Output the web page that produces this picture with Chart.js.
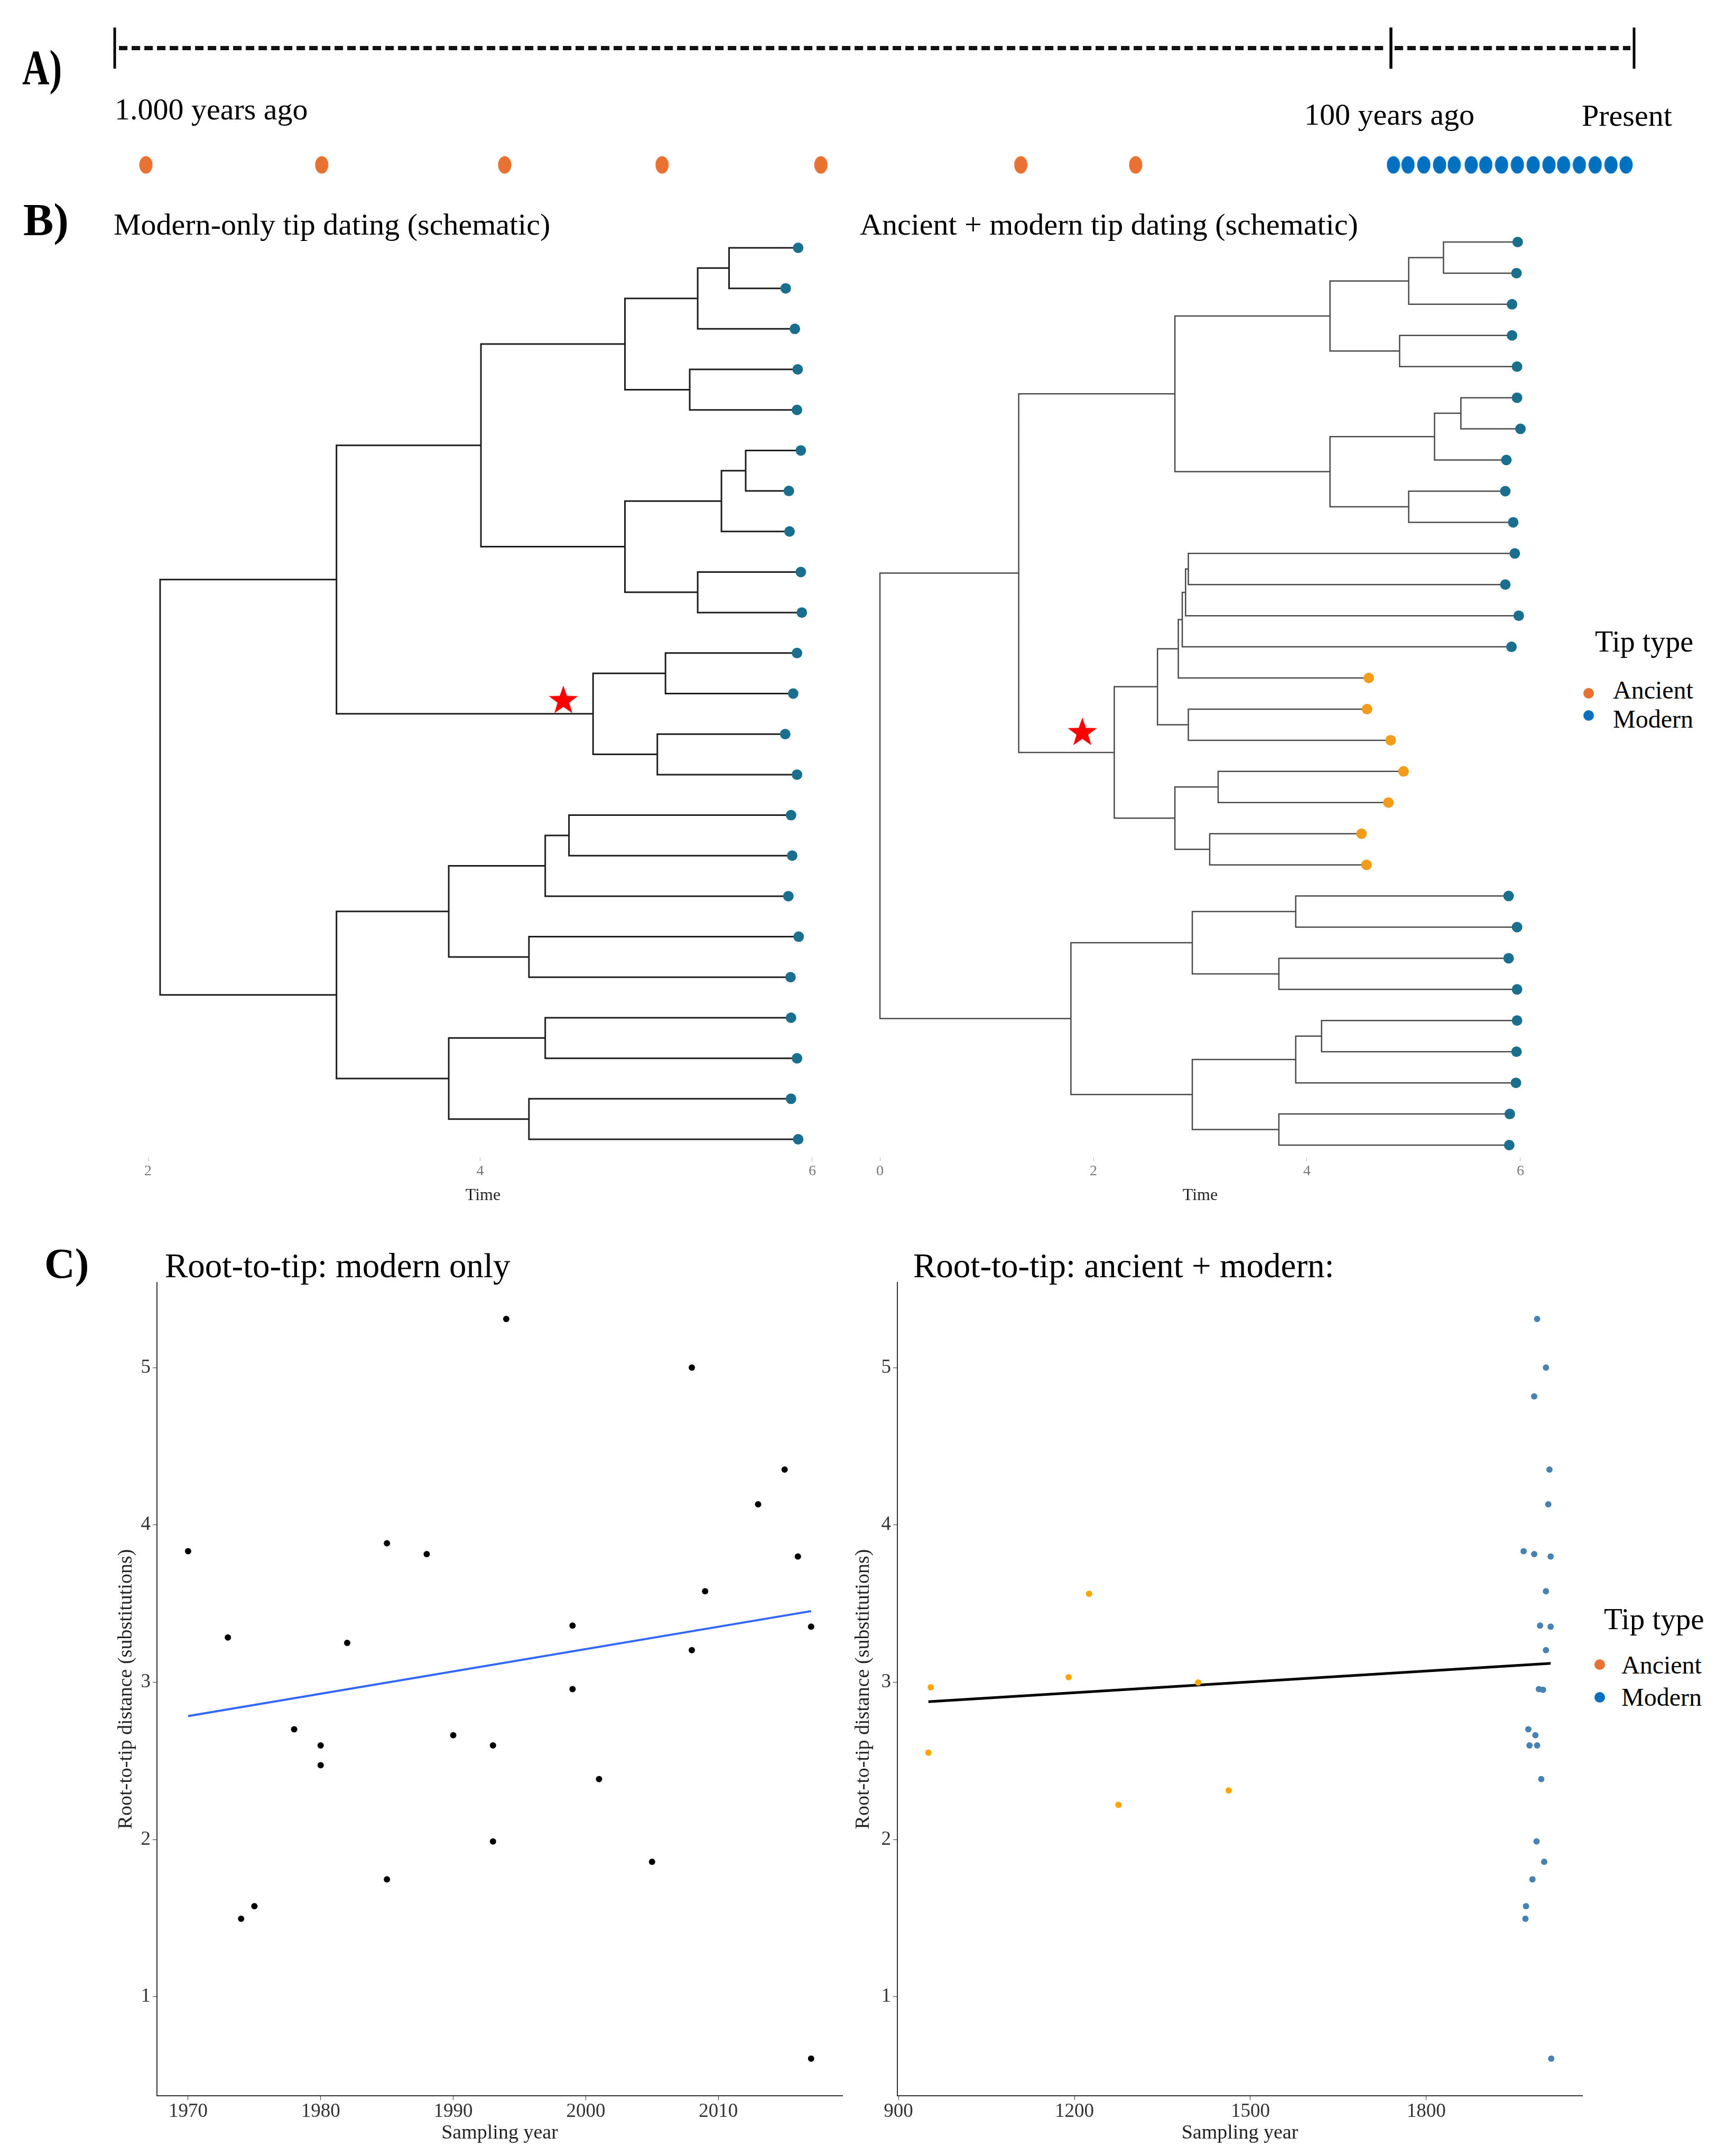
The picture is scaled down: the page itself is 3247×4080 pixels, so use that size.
<!DOCTYPE html>
<html>
<head>
<meta charset="utf-8">
<script src="https://cdn.jsdelivr.net/npm/chart.js@4.4.1/dist/chart.umd.min.js"></script>
<style>
  html, body { margin: 0; padding: 0; background: #fff; }
  #page { position: relative; width: 3247px; height: 4080px; overflow: hidden;
          font-family: "Liberation Serif", "Times New Roman", serif; color: #000; }
  #page canvas { position: absolute; }
  .t { position: absolute; white-space: nowrap; line-height: 1; }
  .dot { position: absolute; border-radius: 50%; }
</style>
</head>
<body>
<div id="page"></div>
<script>
// ---------- data ----------
// A) schematic timeline, in years before present
const timelineBreaks = [1000, 100, 0];
const ancientYearsAgo = [978, 854, 725, 614, 502, 361, 280];
const modernYearsAgo = [99, 93, 86.5, 80, 74, 67, 61, 54.5, 48, 41.5, 35, 29, 22.5, 16, 9.5, 3.3];

// B) left tree: tips 0..22 then internal nodes 23..44 (node times on the Time axis)
const leftTipTime = [5.915, 5.840, 5.895, 5.912, 5.908, 5.931, 5.859, 5.863, 5.931, 5.937, 5.908, 5.885,
                     5.837, 5.908, 5.872, 5.879, 5.856, 5.918, 5.869, 5.872, 5.908, 5.872, 5.915];
const leftNodeTime = [2.073, 3.135, 3.135, 4.005, 4.680, 4.872, 4.872, 5.310, 5.499, 5.262, 5.453,
                      5.599, 5.310, 5.116, 5.067, 3.811, 3.811, 4.392, 4.535, 4.294, 4.392, 4.294];
const leftParent = [31, 31, 30, 32, 32, 34, 34, 33, 35, 35, 36, 36, 37, 37, 41, 41, 40, 42, 42, 43, 43, 44, 44,
                    -1, 23, 23, 24, 24, 26, 26, 28, 30, 28, 29, 33, 29, 27, 27, 25, 25, 38, 40, 38, 39, 39];
const leftStar = [4.501, 12.14];
const leftTreeTicks = [2, 4, 6];

// B) right tree: tips 0..29 then internal nodes 30..58
const rightTipTime = [5.974, 5.963, 5.921, 5.921, 5.968, 5.968, 6.000, 5.868, 5.858, 5.932, 5.947, 5.858, 5.984, 5.916,
                      4.579, 4.563, 4.784, 4.905, 4.763, 4.511, 4.558,
                      5.889, 5.968, 5.889, 5.968, 5.968, 5.963, 5.958, 5.900, 5.895];
const rightTipType = ['M','M','M','M','M','M','M','M','M','M','M','M','M','M',
                      'A','A','A','A','A','A','A',
                      'M','M','M','M','M','M','M','M','M'];
const rightNodeTime = [0.000, 1.300, 1.789, 2.763, 2.195, 4.216, 4.216, 4.953, 5.279, 4.868, 5.195, 5.442, 4.953,
                       2.600, 2.795, 2.832, 2.863, 2.889, 2.889, 2.763, 3.168, 3.089,
                       2.926, 2.926, 3.895, 3.737, 3.895, 4.137, 3.737];
const rightParent = [38, 38, 37, 39, 39, 41, 41, 40, 42, 42, 47, 47, 46, 45, 44, 48, 48, 50, 50, 51, 51,
                     54, 54, 55, 55, 57, 57, 56, 58, 58,
                     -1, 30, 30, 31, 31, 33, 33, 35, 37, 35, 36, 40, 36, 34, 43, 44, 45, 46, 43, 34, 49, 49,
                     32, 32, 52, 52, 53, 56, 53];
const rightStar = [1.896, 16.71];
const rightTreeTicks = [0, 2, 4, 6];

// C) root-to-tip, modern only
const modernYear = [1970, 1973, 1974, 1975, 1978, 1980, 1980, 1982, 1985, 1985, 1988, 1990, 1993, 1993,
                    1994, 1999, 1999, 2001, 2005, 2008, 2008, 2009, 2013, 2015, 2016, 2017, 2017];
const modernDist = [3.833, 3.284, 1.496, 1.576, 2.701, 2.598, 2.472, 3.250, 3.883, 1.747, 3.814, 2.663, 2.598, 1.988,
                    5.309, 3.360, 2.956, 2.384, 1.858, 5.000, 3.204, 3.578, 4.131, 4.352, 3.799, 3.353, 0.607];
const modernFitYear = [1970, 2017];
const modernFitDist = [2.785, 3.452];
const modernYearTicks = [1970, 1980, 1990, 2000, 2010];

// C) root-to-tip, ancient + modern
const ancientYear = [955, 951, 1190, 1225, 1275, 1411, 1463];
const ancientDist = [2.968, 2.552, 3.032, 3.562, 2.220, 2.998, 2.312];
const mixModernYear = [1989, 2004, 1984, 2010, 2008, 1966, 1984, 2012, 2004, 1994, 2012, 2004, 1992,
                       1999, 1974, 1986, 1976, 1989, 1996, 1988, 2001, 1981, 1970, 1969, 2013];
const mixModernDist = [5.309, 5.000, 4.817, 4.352, 4.131, 3.833, 3.814, 3.799, 3.578, 3.360, 3.353, 3.204, 2.956,
                       2.952, 2.701, 2.663, 2.598, 2.598, 2.384, 1.988, 1.858, 1.747, 1.576, 1.496, 0.607];
const mixFitYear = [951, 2012];
const mixFitDist = [2.876, 3.120];
const mixYearTicks = [900, 1200, 1500, 1800];
const distTicks = [1, 2, 3, 4, 5];

// ---------- helpers ----------
Chart.defaults.font.family = '"Liberation Serif", "Times New Roman", serif';
Chart.defaults.animation = false;
const page = document.getElementById('page');

function canvasAt(left, top, w, h) {
  const c = document.createElement('canvas');
  c.width = w; c.height = h;
  c.style.left = left + 'px'; c.style.top = top + 'px';
  c.style.width = w + 'px'; c.style.height = h + 'px';
  page.appendChild(c);
  return c;
}
// place text by its baseline (Liberation Serif baseline sits 0.8375em below the line box top)
function text(str, left, baseline, size, css) {
  const d = document.createElement('div');
  d.className = 't';
  d.textContent = str;
  d.style.left = left + 'px';
  d.style.top = (baseline - 0.8375 * size) + 'px';
  d.style.fontSize = size + 'px';
  Object.assign(d.style, css || {});
  page.appendChild(d);
}
function legendDot(cx, cy, r, color) {
  const d = document.createElement('div');
  d.className = 'dot';
  Object.assign(d.style, { left: (cx - r) + 'px', top: (cy - r) + 'px', width: 2 * r + 'px', height: 2 * r + 'px', background: color });
  page.appendChild(d);
}
function ellipseImage(w, h, color) {
  const c = document.createElement('canvas');
  c.width = w; c.height = h;
  const g = c.getContext('2d');
  g.beginPath(); g.ellipse(w / 2, h / 2, w / 2 - 0.5, h / 2 - 0.5, 0, 0, 2 * Math.PI);
  g.fillStyle = color; g.fill();
  return c;
}
function starImage(size, color) {
  const c = document.createElement('canvas');
  c.width = c.height = size;
  const g = c.getContext('2d');
  const R = size / 2, r = R * 0.4;
  g.beginPath();
  for (let k = 0; k < 10; k++) {
    const rad = k % 2 ? r : R, a = -Math.PI / 2 + k * Math.PI / 5;
    g.lineTo(R + rad * Math.cos(a), R * 1.1 + rad * Math.sin(a));
  }
  g.closePath(); g.fillStyle = color; g.fill();
  return c;
}
// elbow (rectangular) tree: tip i sits at y = i + 1, a node sits at the mean y of its children
function treeLayout(tipTime, nodeTime, parent) {
  const time = tipTime.concat(nodeTime);
  const nTip = tipTime.length;
  const kids = time.map(() => []);
  parent.forEach((p, i) => { if (p >= 0) kids[p].push(i); });
  const y = [];
  const getY = i => {
    if (y[i] === undefined) {
      y[i] = i < nTip ? i + 1 : kids[i].reduce((s, k) => s + getY(k), 0) / kids[i].length;
    }
    return y[i];
  };
  const segs = [];
  for (let i = nTip; i < time.length; i++) {
    const ks = kids[i].slice().sort((a, b) => getY(a) - getY(b));
    const a = ks[0], b = ks[ks.length - 1];
    segs.push({ x: time[a], y: getY(a) }, { x: time[i], y: getY(a) },
              { x: time[i], y: getY(b) }, { x: time[b], y: getY(b) }, { x: time[i], y: null });
  }
  return segs;
}
const fixedTicks = vals => scale => { scale.ticks = vals.map(v => ({ value: v })); };
const baseOptions = {
  responsive: false, animation: false, events: [],
  plugins: { legend: { display: false }, tooltip: { enabled: false } },
  layout: { padding: 0, autoPadding: false }
};

// ---------- A) timeline ----------
const barHalf = 0.176, axisRow = 1, sampleRow = 0;
function timelineChart(left, w, xmin, xmax, inset, dots, dotColor) {
  const lo = timelineBreaks.filter(v => v >= xmin && v <= xmax);
  const ds = [{
    data: dots.map(v => ({ x: v, y: sampleRow })),
    pointStyle: ellipseImage(26, 34, dotColor), pointRadius: 13
  }];
  lo.forEach(v => ds.push({
    data: [{ x: v, y: axisRow - barHalf }, { x: v, y: axisRow + barHalf }],
    showLine: true, borderColor: '#000', borderWidth: 5, pointRadius: 0
  }));
  for (let k = 0; k + 1 < lo.length; k++) {
    ds.push({
      data: [{ x: lo[k] - inset, y: axisRow }, { x: lo[k + 1] + inset, y: axisRow }],
      showLine: true, borderColor: '#111', borderWidth: 8, borderDash: [16, 8], pointRadius: 0
    });
  }
  return new Chart(canvasAt(left, 0, w, 400), {
    type: 'scatter',
    data: { datasets: ds },
    options: Object.assign({}, baseOptions, {
      scales: {
        x: { type: 'linear', display: false, min: xmin, max: xmax, reverse: true },
        y: { display: false, min: -0.398, max: 1.412 }
      }
    })
  });
}
timelineChart(0, 2660, 89.5, 1080.9, 3, ancientYearsAgo, '#E97132');
timelineChart(2560, 687, -33.7, 115.65, 1.5, modernYearsAgo, '#0070C0');

text('A)', 42, 159, 94, { fontWeight: 'bold', transform: 'scaleX(0.76)', transformOrigin: 'left center' });
text('1.000 years ago', 217, 227, 58);
text('100 years ago', 2468, 237, 58);
text('Present', 2993, 239, 58);

// ---------- B) trees ----------
function treeChart(left, top, w, h, xmin, xmax, ymin, ymax, segs, tipSets, star, ticks, lineColor, lineWidth) {
  const ds = tipSets.map(s => ({ data: s.data, pointRadius: 10, pointBackgroundColor: s.color, pointBorderWidth: 0 }));
  ds.unshift({ data: [{ x: star[0], y: star[1] }], pointStyle: starImage(58, '#FF0000'), pointRadius: 20 });
  ds.push({ data: segs, showLine: true, spanGaps: false, borderColor: lineColor, borderWidth: lineWidth,
            borderJoinStyle: 'miter', pointRadius: 0 });
  return new Chart(canvasAt(left, top, w, h), {
    type: 'scatter',
    data: { datasets: ds },
    options: Object.assign({}, baseOptions, {
      scales: {
        x: {
          type: 'linear', min: xmin, max: xmax,
          afterBuildTicks: fixedTicks(ticks),
          afterFit: s => { s.height = 110; },
          grid: { drawOnChartArea: false, drawTicks: true, tickLength: 8, color: '#bbb' },
          border: { display: false },
          ticks: { font: { size: 28 }, color: '#777', padding: 2 },
          title: { display: true, text: 'Time', font: { size: 32 }, color: '#222', padding: { top: 0, bottom: 18 } }
        },
        y: { display: false, min: ymin, max: ymax, reverse: true }
      }
    })
  });
}
const leftTips = leftTipTime.map((t, i) => ({ x: t, y: i + 1 }));
treeChart(228, 420, 1372, 1880, 1.8345, 6.2005, 0.361, 23.443,
  treeLayout(leftTipTime, leftNodeTime, leftParent),
  [{ data: leftTips, color: '#1B6F8E' }], leftStar, leftTreeTicks, '#1e1e1e', 3);

const rightTips = rightTipTime.map((t, i) => ({ x: t, y: i + 1, type: rightTipType[i] }));
treeChart(1600, 400, 1342, 1900, -0.3218, 6.3218, 0.0158, 30.39,
  treeLayout(rightTipTime, rightNodeTime, rightParent),
  [{ data: rightTips.filter(p => p.type === 'A'), color: '#F39C1A' },
   { data: rightTips.filter(p => p.type === 'M'), color: '#1B6F8E' }],
  rightStar, rightTreeTicks, '#4a4a4a', 2.5);

text('B)', 44, 445, 86, { fontWeight: 'bold' });
text('Modern-only tip dating (schematic)', 215, 445, 58);
text('Ancient + modern tip dating (schematic)', 1627, 445, 58);
text('Tip type', 3018, 1233, 56);
legendDot(3006, 1312, 10, '#E87230');
legendDot(3006, 1354, 10, '#0A6FBF');
text('Ancient', 3052, 1322, 48);
text('Modern', 3052, 1377, 48);

// ---------- C) root-to-tip regressions ----------
function rttChart(left, w, axisW, xmin, xmax, xticks, titlePad, datasets) {
  return new Chart(canvasAt(left, 2350, w, 1730), {
    type: 'scatter',
    data: { datasets },
    options: Object.assign({}, baseOptions, {
      layout: { padding: { top: 77, right: 26, left: 0, bottom: 0 }, autoPadding: false },
      scales: {
        x: {
          type: 'linear', min: xmin, max: xmax,
          afterBuildTicks: fixedTicks(xticks),
          afterFit: s => { s.height = 114; },
          grid: { drawOnChartArea: false, drawTicks: true, tickLength: 8, color: '#333' },
          border: { display: true, color: '#333', width: 2 },
          ticks: { font: { size: 37 }, color: '#333', padding: 0, maxRotation: 0, callback: v => String(v) },
          title: { display: true, text: 'Sampling year', font: { size: 38 }, color: '#222', padding: { top: 0, bottom: 20 } }
        },
        y: {
          type: 'linear', min: 0.371, max: 5.541,
          afterBuildTicks: fixedTicks(distTicks),
          afterFit: s => { s.width = axisW; },
          grid: { drawOnChartArea: false, drawTicks: true, tickLength: 8, color: '#333' },
          border: { display: true, color: '#333', width: 2 },
          ticks: { font: { size: 37 }, color: '#333', padding: 4, callback: v => String(v) },
          title: { display: true, text: 'Root-to-tip distance (substitutions)', font: { size: 38 }, color: '#222',
                   padding: { top: titlePad, bottom: 0 } }
        }
      }
    })
  });
}
const pts = (xs, ys) => xs.map((x, i) => ({ x, y: ys[i] }));
rttChart(150, 1470, 147, 1967.65, 2019.36, modernYearTicks, 66, [
  { data: pts(modernYear, modernDist), pointRadius: 6, pointBackgroundColor: '#000', pointBorderWidth: 0 },
  { data: pts(modernFitYear, modernFitDist), showLine: true, borderColor: '#3366FF', borderWidth: 4, pointRadius: 0 }
]);
rttChart(1560, 1460, 138, 898.1, 2066, mixYearTicks, 51, [
  { data: pts(ancientYear, ancientDist), pointRadius: 6, pointBackgroundColor: '#FFA500', pointBorderWidth: 0 },
  { data: pts(mixModernYear, mixModernDist), pointRadius: 6, pointBackgroundColor: '#4682B4', pointBorderWidth: 0 },
  { data: pts(mixFitYear, mixFitDist), showLine: true, borderColor: '#000', borderWidth: 5, pointRadius: 0 }
]);

text('C)', 84, 2418, 80, { fontWeight: 'bold' });
text('Root-to-tip: modern only', 312, 2417, 65);
text('Root-to-tip: ancient + modern:', 1728, 2417, 65);
text('Tip type', 3035, 3083, 57);
legendDot(3027, 3150, 10, '#E97132');
legendDot(3027, 3212, 10, '#0070C0');
text('Ancient', 3068, 3167, 48);
text('Modern', 3068, 3228, 48);
</script>
</body>
</html>
